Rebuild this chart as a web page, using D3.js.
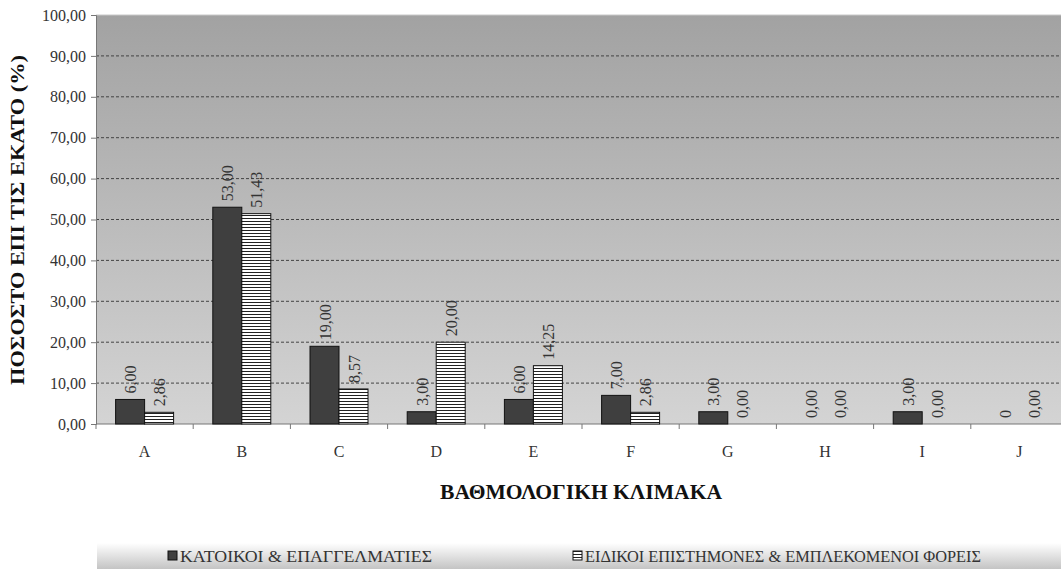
<!DOCTYPE html>
<meta charset="utf-8">
<script src="https://d3js.org/d3.v7.min.js"></script>
<style>
  body { margin: 0; background: #fff; }
  svg text { font-family: "Liberation Serif", "Times New Roman", serif; }
</style>
<div id="chart"></div>
<script>

// data
const categories = ["A", "B", "C", "D", "E", "F", "G", "H", "I", "J"];
const residents = [6, 53, 19, 3, 6, 7, 3, 0, 3, 0];
const residentLabels = ["6,00", "53,00", "19,00", "3,00", "6,00", "7,00", "3,00", "0,00", "3,00", "0"];
const experts = [2.86, 51.43, 8.57, 20, 14.25, 2.86, 0, 0, 0, 0];
const expertLabels = ["2,86", "51,43", "8,57", "20,00", "14,25", "2,86", "0,00", "0,00", "0,00", "0,00"];
const yTicks = [0, 10, 20, 30, 40, 50, 60, 70, 80, 90, 100];
const seriesNames = ["ΚΑΤΟΙΚΟΙ & ΕΠΑΓΓΕΛΜΑΤΙΕΣ", "ΕΙΔΙΚΟΙ ΕΠΙΣΤΗΜΟΝΕΣ & ΕΜΠΛΕΚΟΜΕΝΟΙ ΦΟΡΕΙΣ"];

const W = 1061, H = 569;
const margin = {top: 15, left: 96, bottom: 145};
const plotW = 972, plotH = H - margin.top - margin.bottom;

const svg = d3.select("#chart").append("svg")
    .attr("width", W).attr("height", H);

const defs = svg.append("defs");
const bg = defs.append("linearGradient").attr("id", "bg")
    .attr("x1", 0).attr("y1", 0).attr("x2", 0).attr("y2", 1);
bg.append("stop").attr("offset", "0%").attr("stop-color", "#a2a2a2");
bg.append("stop").attr("offset", "100%").attr("stop-color", "#d4d4d4");

const stripes = defs.append("pattern").attr("id", "stripes")
    .attr("patternUnits", "userSpaceOnUse").attr("width", 6).attr("height", 3);
stripes.append("rect").attr("width", 6).attr("height", 3).attr("fill", "#fff");
stripes.append("rect").attr("y", 2).attr("width", 6).attr("height", 1).attr("fill", "#222");

const lg = defs.append("linearGradient").attr("id", "legbg")
    .attr("x1", 0).attr("y1", 0).attr("x2", 0).attr("y2", 1);
lg.append("stop").attr("offset", "0%").attr("stop-color", "#ffffff");
lg.append("stop").attr("offset", "100%").attr("stop-color", "#c4c4c4");

const g = svg.append("g").attr("transform", `translate(${margin.left},${margin.top})`);

const x = d3.scaleBand().domain(categories).range([0, plotW]);
const y = d3.scaleLinear().domain([0, 100]).range([plotH, 0]);
const barW = 29;

// plot background
g.append("rect").attr("width", plotW).attr("height", plotH).attr("fill", "url(#bg)");
g.append("line").attr("x1", 0).attr("x2", plotW).attr("y1", 0).attr("y2", 0)
    .attr("stroke", "#c8c8c8");

// gridlines
g.selectAll(".grid").data(yTicks.filter(d => d > 0 && d < 100)).enter()
  .append("line")
    .attr("x1", 0).attr("x2", plotW)
    .attr("y1", d => y(d)).attr("y2", d => y(d))
    .attr("stroke", "#444").attr("stroke-width", 1)
    .attr("stroke-dasharray", "3,2");

// y axis
const yAxis = g.append("g")
    .call(d3.axisLeft(y).tickValues(yTicks).tickSize(5).tickPadding(5)
      .tickFormat(d => d3.format(".2f")(d).replace(".", ",")));
yAxis.attr("font-family", null).attr("font-size", null);
yAxis.select(".domain").attr("stroke", "#777");
yAxis.selectAll(".tick line").attr("stroke", "#777");
yAxis.selectAll("text").attr("font-size", 16).attr("fill", "#333");

// x axis line and ticks between categories
g.append("line").attr("x1", 0).attr("x2", plotW).attr("y1", plotH).attr("y2", plotH)
    .attr("stroke", "#777");
g.selectAll(".xt").data(categories).enter().append("line")
    .attr("x1", d => x(d)).attr("x2", d => x(d))
    .attr("y1", plotH).attr("y2", plotH + 5).attr("stroke", "#777");
g.selectAll(".xl").data(categories).enter().append("text")
    .attr("x", d => x(d) + x.bandwidth() / 2)
    .attr("y", plotH + 33)
    .attr("text-anchor", "middle")
    .attr("font-size", 16).attr("fill", "#333")
    .text(d => d);

// bars
const series = [
  {values: residents, labels: residentLabels, fill: "#3f3f3f", off: -barW},
  {values: experts, labels: expertLabels, fill: "url(#stripes)", off: 0}
];
series.forEach(s => {
  g.selectAll(null).data(categories).enter().append("rect")
      .attr("x", d => x(d) + x.bandwidth() / 2 + s.off)
      .attr("y", (d, i) => y(s.values[i]))
      .attr("width", barW)
      .attr("height", (d, i) => plotH - y(s.values[i]))
      .attr("fill", s.fill)
      .attr("stroke", (d, i) => s.values[i] > 0 ? "#111" : "none")
      .attr("stroke-width", 1);
  g.selectAll(null).data(categories).enter().append("text")
      .attr("transform", (d, i) => {
        const cx = x(d) + x.bandwidth() / 2 + s.off + barW / 2 + 6;
        const cy = y(s.values[i]) - 6;
        return `translate(${cx},${cy}) rotate(-90)`;
      })
      .attr("font-size", 16).attr("fill", "#333")
      .text((d, i) => s.labels[i]);
});

// axis titles
svg.append("text")
    .attr("transform", `translate(24,220) rotate(-90)`)
    .attr("text-anchor", "middle")
    .attr("font-size", 19).attr("font-weight", "bold").attr("fill", "#111")
    .attr("textLength", 330).attr("lengthAdjust", "spacingAndGlyphs")
    .text("ΠΟΣΟΣΤΟ ΕΠΙ ΤΙΣ ΕΚΑΤΟ (%)");
svg.append("text")
    .attr("x", 581).attr("y", 499)
    .attr("text-anchor", "middle")
    .attr("font-size", 20).attr("font-weight", "bold").attr("fill", "#111")
    .attr("textLength", 282).attr("lengthAdjust", "spacingAndGlyphs")
    .text("ΒΑΘΜΟΛΟΓΙΚΗ ΚΛΙΜΑΚΑ");

// legend
const leg = svg.append("g").attr("transform", "translate(97,543)");
leg.append("rect").attr("width", W - 97).attr("height", 26).attr("fill", "url(#legbg)");
const legX = [71, 476];
const legLen = [252, 396];
seriesNames.forEach((name, i) => {
  leg.append("rect").attr("x", legX[i]).attr("y", 8).attr("width", 9).attr("height", 9)
      .attr("fill", series[i].fill)
      .attr("stroke", "#111");
  leg.append("text").attr("x", legX[i] + 12).attr("y", 19)
      .attr("font-size", 16).attr("fill", "#333")
      .attr("textLength", legLen[i]).attr("lengthAdjust", "spacingAndGlyphs")
      .text(name);
});

</script>
